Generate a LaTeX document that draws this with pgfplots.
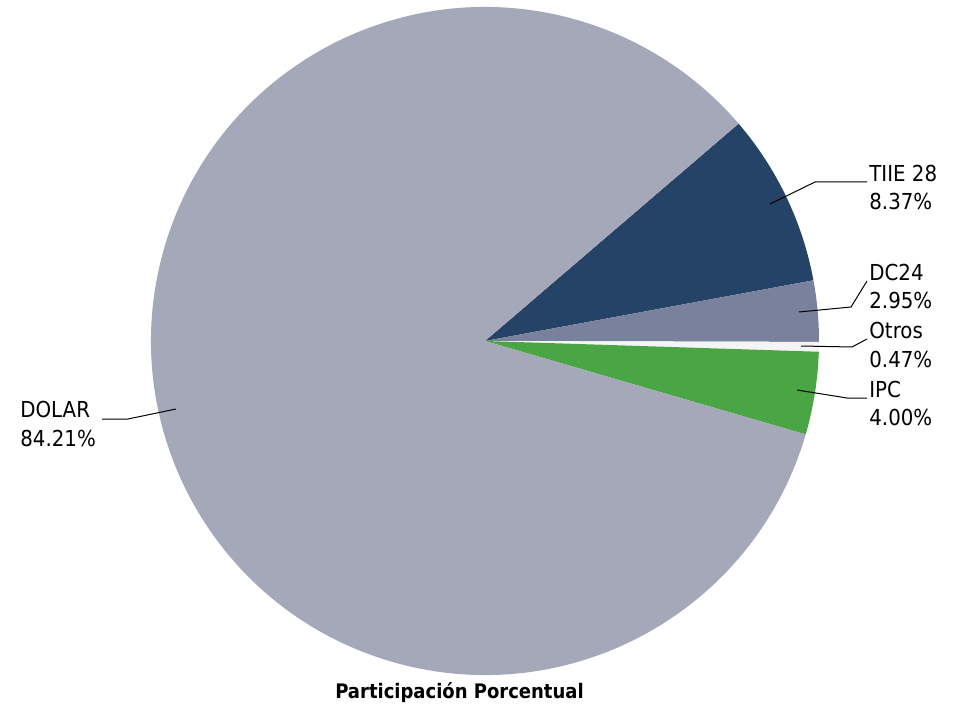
\documentclass[border=0pt]{standalone}
\usepackage{pgfplots}
\pgfplotsset{compat=1.18}
\usepackage{fontspec}
\setmainfont{DejaVu Sans Condensed}

\definecolor{tiie}{HTML}{254366}
\definecolor{dcc}{HTML}{7A819D}
\definecolor{otros}{HTML}{F4F4F4}
\definecolor{ipc}{HTML}{4AA544}
\definecolor{dolar}{HTML}{A5A8B9}

\begin{document}
\begin{tikzpicture}
\begin{axis}[
    scale only axis,
    width=479pt, height=354pt,
    xmin=0, xmax=958, ymin=0, ymax=708,
    hide axis, clip=false,
]
% slices clockwise from 40.6 deg; radius 334 px = 167pt
\pgfplotsextra{
\foreach \pct/\col [remember=\ea as \sa (initially 40.6)] in
    {8.37/tiie, 2.95/dcc, 0.47/otros, 4.00/ipc, 84.21/dolar} {
  \pgfmathsetmacro{\ea}{\sa-3.6*\pct}
  \fill[\col] (axis cs:485,367) -- ++(\sa:167pt)
     arc[start angle=\sa, end angle=\ea, radius=167pt] -- cycle;
}
}

% leader lines
\draw[black, line width=0.5pt] (axis cs:770,504) -- (axis cs:815,526) -- (axis cs:867,526);
\draw[black, line width=0.5pt] (axis cs:799,396) -- (axis cs:851,401) -- (axis cs:867,427);
\draw[black, line width=0.5pt] (axis cs:801,362) -- (axis cs:852,361) -- (axis cs:867,369);
\draw[black, line width=0.5pt] (axis cs:797,318) -- (axis cs:847,310) -- (axis cs:867,310);
\draw[black, line width=0.5pt] (axis cs:176,299) -- (axis cs:128,289) -- (axis cs:102,289);

% labels
\begin{scope}[every node/.style={anchor=base west, inner sep=0pt, font=\fontsize{11}{14}\selectfont}]
\node at (axis cs:869,526) {TIIE 28};
\node at (axis cs:869,498) {8.37\%};
\node at (axis cs:869,428) {DC24};
\node at (axis cs:869,400) {2.95\%};
\node at (axis cs:869,370) {Otros};
\node at (axis cs:869,341) {0.47\%};
\node at (axis cs:869,311) {IPC};
\node at (axis cs:869,283) {4.00\%};
\node at (axis cs:20,291) {DOLAR};
\node at (axis cs:20,262) {84.21\%};
\end{scope}
\node[anchor=base, inner sep=0pt, font=\fontsize{10}{12}\selectfont\bfseries] at (axis cs:459.5,10) {Participación Porcentual};
\end{axis}
\pgfresetboundingbox
\path (0,0) rectangle (479pt,354pt);
\end{tikzpicture}
\end{document}
